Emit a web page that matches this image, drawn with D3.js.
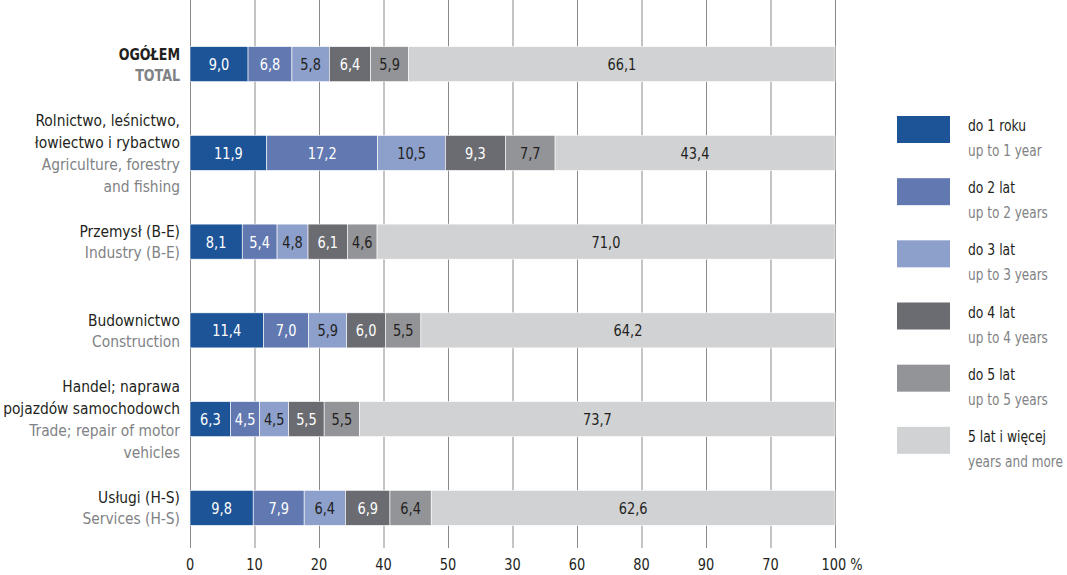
<!DOCTYPE html>
<html><head><meta charset="utf-8">
<script src="https://cdn.jsdelivr.net/npm/d3@7/dist/d3.min.js"></script>
<style>
body{margin:0;background:#fff;}
svg text{font-family:"Liberation Sans Narrow","DejaVu Sans Condensed","Roboto Condensed",sans-serif;}
</style></head>
<body><svg id="c" width="1067" height="575"></svg>
<script>
const categoriesPL = [["OGÓŁEM"],["Rolnictwo, leśnictwo,","łowiectwo i rybactwo"],["Przemysł (B-E)"],["Budownictwo"],["Handel; naprawa","pojazdów samochodowch"],["Usługi (H-S)"]];
const categoriesEN = [["TOTAL"],["Agriculture, forestry","and fishing"],["Industry (B-E)"],["Construction"],["Trade; repair of motor","vehicles"],["Services (H-S)"]];
const seriesPL = ["do 1 roku","do 2 lat","do 3 lat","do 4 lat","do 5 lat","5 lat i więcej"];
const seriesEN = ["up to 1 year","up to 2 years","up to 3 years","up to 4 years","up to 5 years","years and more"];
const upTo1 = [9.0,11.9,8.1,11.4,6.3,9.8];
const upTo2 = [6.8,17.2,5.4,7.0,4.5,7.9];
const upTo3 = [5.8,10.5,4.8,5.9,4.5,6.4];
const upTo4 = [6.4,9.3,6.1,6.0,5.5,6.9];
const upTo5 = [5.9,7.7,4.6,5.5,5.5,6.4];
const over5 = [66.1,43.4,71.0,64.2,73.7,62.6];
const tickValues = [0,10,20,30,40,50,60,70,80,90,100];
const tickLabels = ["0","10","20","40","50","30","60","80","90","70","100 %"];

const colors = ["#1d5497","#6178b1","#8da0cb","#6b6c71","#939498","#d1d2d4"];
const labelColors = ["#fff","#fff","#231f20","#fff","#231f20","#231f20"];

const seriesVals = [upTo1,upTo2,upTo3,upTo4,upTo5,over5];
const keys = seriesPL;
const rows = categoriesPL.map((c,i)=>{const o={idx:i}; keys.forEach((k,j)=>o[k]=seriesVals[j][i]); return o;});
const stack = d3.stack().keys(keys)(rows);

const svg = d3.select("#c");
const x = d3.scaleLinear().domain([0,100]).range([190,835]);
const y = d3.scaleBand().domain(d3.range(6)).range([20,552]).paddingInner(0.605).paddingOuter(0.3);

function txt(parent, px, py, str, o={}){
  const g = parent.append("g").attr("transform",`translate(${px},${py}) scale(${o.sx||0.9},1)`);
  return g.append("text").attr("x",0).attr("y",0)
    .attr("text-anchor",o.anchor||"start").attr("font-size",o.size||16)
    .attr("font-weight",o.weight||"normal").attr("fill",o.fill||"#231f20").text(str);
}

// grid
svg.append("g").selectAll("line").data(tickValues).join("line")
  .attr("x1",d=>x(d)+0.5).attr("x2",d=>x(d)+0.5).attr("y1",0).attr("y2",548)
  .attr("stroke","#8a8a8c").attr("stroke-width",1);

// axis labels
const ax = svg.append("g");
tickValues.forEach((d,i)=>txt(ax, i===10?x(d)+7:x(d), 570, tickLabels[i], {anchor:"middle"}));

// bars
const g = svg.append("g");
stack.forEach((s,si)=>{
  const gg = g.append("g");
  gg.selectAll("rect").data(s).join("rect")
    .attr("x",d=>x(d[0])).attr("width",d=>x(d[1])-x(d[0]))
    .attr("y",(d,i)=>y(i)).attr("height",y.bandwidth())
    .attr("fill",colors[si]).attr("stroke","#fff").attr("stroke-width",0.6);
  s.forEach((d,i)=>{
    txt(gg,(x(d[0])+x(d[1]))/2, y(i)+y.bandwidth()/2+6, d3.format(".1f")(d[1]-d[0]).replace(".",","),
      {anchor:"middle", fill:labelColors[si]});
  });
});

// category labels
const cl = svg.append("g");
categoriesPL.forEach((pl,i)=>{
  const lines = pl.map(t=>({t,en:false})).concat(categoriesEN[i].map(t=>({t,en:true})));
  const lh = lines.length>2?22:21;
  const cy = y(i)+y.bandwidth()/2;
  const start = cy - (lines.length-1)*lh/2;
  lines.forEach((l,j)=>{
    txt(cl,180,start+j*lh+6,l.t,{anchor:"end",sx:i===0?0.88:0.96,weight:i===0?"bold":"normal",fill:l.en?"#808285":"#231f20"});
  });
});

// legend
const lg = svg.append("g");
const ly = d3.scaleBand().domain(d3.range(6)).range([116,489]);
seriesPL.forEach((s,i)=>{
  lg.append("rect").attr("x",897).attr("y",ly(i)).attr("width",53).attr("height",27).attr("fill",colors[i]);
  txt(lg,968,ly(i)+15,s,{sx:0.86});
  txt(lg,968,ly(i)+40,seriesEN[i],{sx:0.84,fill:"#808285"});
});
</script></body></html>
